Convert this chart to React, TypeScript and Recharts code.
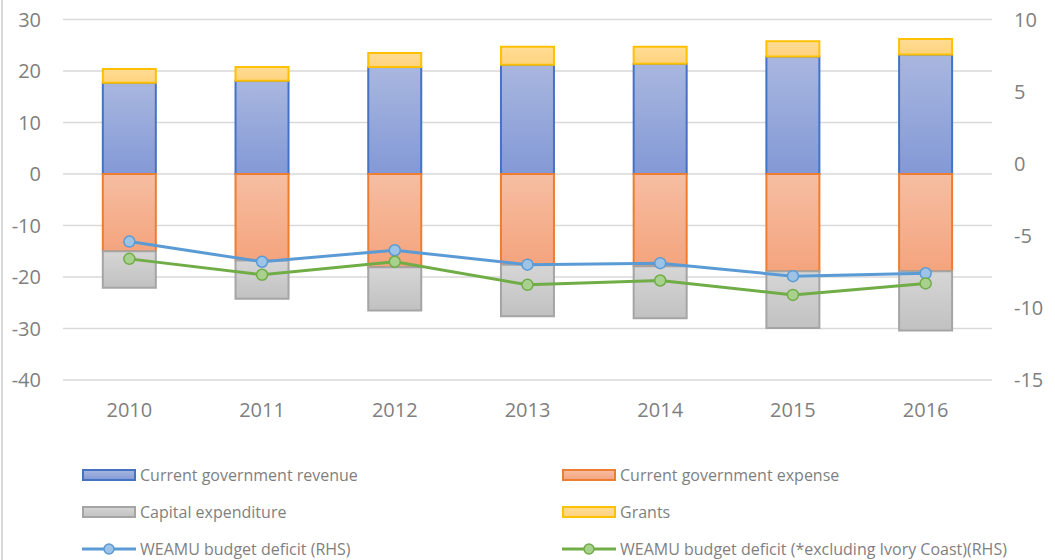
import { Bar, CartesianGrid, ComposedChart, Line, XAxis, YAxis } from 'recharts';

const years = ['2010', '2011', '2012', '2013', '2014', '2015', '2016'];
const revenue = [17.7, 18.1, 20.8, 21.2, 21.4, 22.8, 23.2];
const grants = [2.7, 2.7, 2.7, 3.5, 3.3, 3.0, 3.0];
const expense = [-15.0, -16.8, -18.1, -17.6, -17.9, -18.9, -18.9];
const capital = [-7.1, -7.4, -8.4, -10.0, -10.1, -11.0, -11.5];
const deficit = [-5.4, -6.8, -6.0, -7.0, -6.9, -7.8, -7.6];
const deficitExIvoryCoast = [-6.6, -7.7, -6.8, -8.4, -8.1, -9.1, -8.3];

const leftTicks = [-40, -30, -20, -10, 0, 10, 20, 30];
const rightTicks = [-15, -10, -5, 0, 5, 10];

const data = years.map((year, i) => ({
  year,
  revenue: revenue[i],
  grants: grants[i],
  expense: expense[i],
  capital: capital[i],
  deficit: deficit[i],
  deficitEx: deficitExIvoryCoast[i],
}));

const FONT = '"Open Sans", "Liberation Sans", sans-serif';
const TEXT = '#7f7f7f';

const barStyles = {
  revenue: { top: '#a9b7df', bottom: '#8399d6', stroke: '#4472c4' },
  expense: { top: '#f6bea2', bottom: '#f4a47d', stroke: '#ed7d31' },
  capital: { top: '#d6d6d6', bottom: '#c1c1c1', stroke: '#a5a5a5' },
  grants: { top: '#ffdc95', bottom: '#ffd37e', stroke: '#ffc000' },
};

type LegendItem = { label: string; kind: 'bar' | 'line'; key: string };

const legendRows: LegendItem[][] = [
  [
    { label: 'Current government revenue', kind: 'bar', key: 'revenue' },
    { label: 'Current government expense', kind: 'bar', key: 'expense' },
  ],
  [
    { label: 'Capital expenditure', kind: 'bar', key: 'capital' },
    { label: 'Grants', kind: 'bar', key: 'grants' },
  ],
  [
    { label: 'WEAMU budget deficit (RHS)', kind: 'line', key: 'blue' },
    { label: 'WEAMU budget deficit (*excluding Ivory Coast)(RHS)', kind: 'line', key: 'green' },
  ],
];

const lineColors: Record<string, { stroke: string; fill: string }> = {
  blue: { stroke: '#5b9bd5', fill: '#9dc3e6' },
  green: { stroke: '#70ad47', fill: '#a9d18e' },
};

const LegendIcon = ({ item }: { item: LegendItem }) => {
  if (item.kind === 'bar') {
    const s = barStyles[item.key as keyof typeof barStyles];
    return (
      <svg width={54} height={14} style={{ display: 'block' }}>
        <defs>
          <linearGradient id={`lg-${item.key}`} x1="0" y1="0" x2="0" y2="1">
            <stop offset="0%" stopColor={s.top} />
            <stop offset="100%" stopColor={s.bottom} />
          </linearGradient>
        </defs>
        <rect x={1} y={2} width={52} height={10} fill={`url(#lg-${item.key})`} stroke={s.stroke} strokeWidth={2} />
      </svg>
    );
  }
  const c = lineColors[item.key];
  return (
    <svg width={54} height={14} style={{ display: 'block' }}>
      <line x1={0} y1={7} x2={54} y2={7} stroke={c.stroke} strokeWidth={3} />
      <circle cx={27} cy={7} r={5} fill={c.fill} stroke={c.stroke} strokeWidth={1.5} />
    </svg>
  );
};

export default function App() {
  return (
    <div
      style={{
        position: 'absolute',
        left: 0,
        top: 0,
        width: 1055,
        height: 560,
        background: '#fff',
        fontFamily: FONT,
        overflow: 'hidden',
      }}
    >
      <div style={{ position: 'absolute', left: 1, top: 0, width: 2, height: 560, background: '#d9d9d9' }} />
      <ComposedChart
        width={1055}
        height={560}
        data={data}
        stackOffset="sign"
        barCategoryGap="30%"
        margin={{ top: 19.5, right: 0, left: 0, bottom: 150 }}
      >
        <defs>
          {Object.entries(barStyles).map(([key, s]) => (
            <linearGradient key={key} id={`g-${key}`} x1="0" y1="0" x2="0" y2="1">
              <stop offset="0%" stopColor={s.top} />
              <stop offset="100%" stopColor={s.bottom} />
            </linearGradient>
          ))}
        </defs>
        <CartesianGrid yAxisId="left" vertical={false} stroke="#d9d9d9" strokeWidth={1.5} />
        <XAxis
          dataKey="year"
          axisLine={false}
          tickLine={false}
          tickSize={0}
          tickMargin={23}
          height={30}
          tick={{ fill: TEXT, fontSize: 20, fontFamily: FONT }}
        />
        <YAxis
          yAxisId="left"
          domain={[-40, 30]}
          ticks={leftTicks}
          interval={0}
          axisLine={false}
          tickLine={false}
          tickSize={0}
          tickMargin={22}
          width={63}
          tick={{ fill: TEXT, fontSize: 20, fontFamily: FONT }}
        />
        <YAxis
          yAxisId="right"
          orientation="right"
          domain={[-15, 10]}
          ticks={rightTicks}
          interval={0}
          axisLine={false}
          tickLine={false}
          tickSize={0}
          tickMargin={22}
          width={63}
          tick={{ fill: TEXT, fontSize: 20, fontFamily: FONT, textAnchor: 'start' }}
        />
        <Bar yAxisId="left" dataKey="revenue" stackId="s" fill="url(#g-revenue)" stroke={barStyles.revenue.stroke} strokeWidth={2} isAnimationActive={false} />
        <Bar yAxisId="left" dataKey="grants" stackId="s" fill="url(#g-grants)" stroke={barStyles.grants.stroke} strokeWidth={2} isAnimationActive={false} />
        <Bar yAxisId="left" dataKey="expense" stackId="s" fill="url(#g-expense)" stroke={barStyles.expense.stroke} strokeWidth={2} isAnimationActive={false} />
        <Bar yAxisId="left" dataKey="capital" stackId="s" fill="url(#g-capital)" stroke={barStyles.capital.stroke} strokeWidth={2} isAnimationActive={false} />
        <Line
          yAxisId="right"
          dataKey="deficit"
          type="linear"
          stroke={lineColors.blue.stroke}
          strokeWidth={3}
          dot={{ r: 5.5, fill: lineColors.blue.fill, stroke: lineColors.blue.stroke, strokeWidth: 1.5 }}
          isAnimationActive={false}
        />
        <Line
          yAxisId="right"
          dataKey="deficitEx"
          type="linear"
          stroke={lineColors.green.stroke}
          strokeWidth={3}
          dot={{ r: 5.5, fill: lineColors.green.fill, stroke: lineColors.green.stroke, strokeWidth: 1.5 }}
          isAnimationActive={false}
        />
      </ComposedChart>
      {legendRows.map((row, r) =>
        row.map((item, c) => (
          <div
            key={item.label}
            style={{
              position: 'absolute',
              left: c === 0 ? 82 : 562,
              top: 475 + r * 37 - 10,
              height: 20,
              display: 'flex',
              alignItems: 'center',
              gap: 4,
              color: TEXT,
              fontSize: 16,
              whiteSpace: 'nowrap',
            }}
          >
            <LegendIcon item={item} />
            <span>{item.label}</span>
          </div>
        )),
      )}
    </div>
  );
}
